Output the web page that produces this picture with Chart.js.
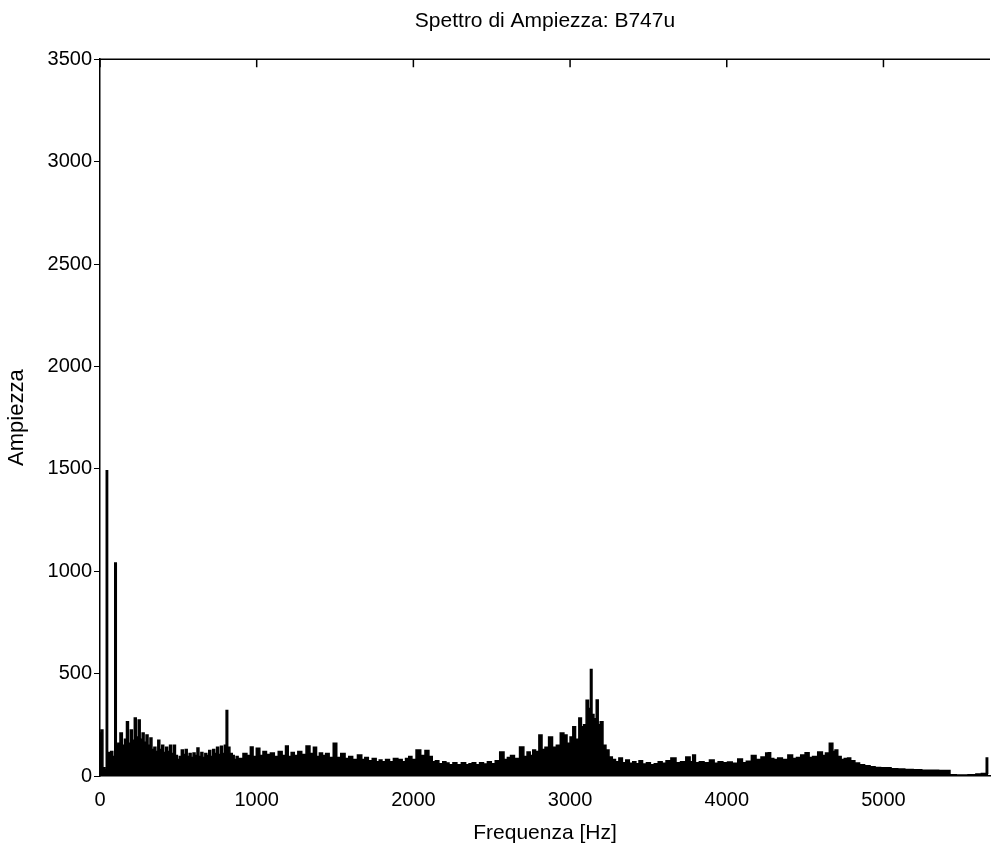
<!DOCTYPE html>
<html>
<head>
<meta charset="utf-8">
<script src="https://cdn.jsdelivr.net/npm/chart.js@4.4.1/dist/chart.umd.min.js"></script>
<style>
  html, body { margin: 0; padding: 0; background: #fff; }
  #wrap { position: relative; width: 992px; height: 850px; }
</style>
</head>
<body>
<div id="wrap"><canvas id="chart"></canvas></div>
<script>
// spectrum: frequency [Hz] and amplitude envelope
const freqHz = [
  0, 12, 25, 35, 45, 52, 62, 75, 88, 100, 108, 120, 135, 150, 163, 175, 188, 200, 213, 225,
  238, 250, 263, 275, 288, 300, 313, 325, 338, 350, 363, 375, 388, 400, 413, 425, 438, 450, 463, 475,
  488, 500, 513, 525, 538, 550, 563, 575, 588, 600, 613, 625, 638, 650, 663, 675, 688, 700, 713, 725,
  738, 750, 763, 775, 788, 800, 810, 820, 838, 850, 863, 875, 888, 900, 925, 950, 969, 985, 1010, 1030,
  1050, 1075, 1100, 1125, 1150, 1175, 1193, 1210, 1230, 1250, 1275, 1300, 1330, 1350, 1374, 1390, 1410, 1430, 1450, 1475,
  1502, 1520, 1553, 1575, 1600, 1625, 1661, 1680, 1700, 1725, 1750, 1775, 1789, 1810, 1835, 1860, 1885, 1917, 1940, 1960,
  1981, 2000, 2034, 2060, 2088, 2110, 2131, 2150, 2175, 2200, 2215, 2240, 2265, 2290, 2322, 2345, 2365, 2386, 2410, 2435,
  2460, 2485, 2510, 2535, 2567, 2590, 2610, 2630, 2660, 2695, 2715, 2736, 2755, 2769, 2790, 2812, 2830, 2850, 2876, 2900,
  2925, 2950, 2971, 2990, 3010, 3025, 3045, 3067, 3078, 3095, 3110, 3125, 3135, 3145, 3160, 3174, 3185, 3200, 3220, 3238,
  3259, 3280, 3300, 3323, 3345, 3366, 3390, 3410, 3430, 3450, 3475, 3500, 3525, 3550, 3575, 3600, 3625, 3662, 3690, 3720,
  3757, 3775, 3790, 3810, 3840, 3870, 3909, 3930, 3960, 3990, 4020, 4050, 4090, 4110, 4140, 4174, 4200, 4237, 4260, 4270,
  4290, 4310, 4340, 4370, 4410, 4430, 4460, 4484, 4516, 4535, 4560, 4601, 4620, 4640, 4669, 4685, 4697, 4720, 4740, 4760,
  4782, 4800, 4835, 4860, 4899, 4930, 4963, 5000, 5027, 5070, 5112, 5160, 5219, 5270, 5324, 5380, 5421, 5428, 5500, 5580,
  5600, 5650, 5662, 5668
]
const amplitude = [
  210, 225, 40, 30, 1490, 60, 115, 120, 95, 1040, 150, 160, 210, 150, 180, 265, 160, 225, 175, 283,
  190, 273, 180, 210, 165, 200, 150, 185, 130, 140, 120, 175, 130, 150, 115, 140, 120, 150, 110, 150,
  100, 80, 95, 127, 105, 130, 95, 110, 90, 112, 100, 137, 95, 115, 90, 110, 100, 125, 95, 130,
  110, 140, 105, 145, 110, 150, 320, 140, 110, 100, 80, 95, 85, 85, 110, 100, 142, 95, 135, 100,
  120, 105, 112, 95, 120, 100, 147, 95, 115, 100, 120, 105, 147, 110, 140, 95, 112, 100, 110, 90,
  160, 90, 110, 85, 95, 80, 102, 80, 90, 75, 85, 70, 78, 70, 80, 70, 85, 80, 70, 85,
  95, 80, 127, 100, 125, 95, 70, 75, 60, 70, 63, 55, 65, 55, 65, 55, 60, 65, 55, 65,
  58, 70, 60, 75, 117, 80, 90, 100, 85, 142, 95, 117, 100, 127, 120, 200, 130, 140, 190, 140,
  150, 210, 200, 160, 190, 240, 180, 283, 240, 250, 370, 330, 520, 300, 280, 371, 250, 265, 150, 127,
  93, 80, 70, 88, 65, 78, 62, 70, 60, 75, 58, 65, 55, 60, 70, 62, 75, 88, 65, 70,
  93, 70, 102, 65, 70, 65, 78, 62, 70, 65, 68, 62, 83, 65, 72, 100, 80, 93, 112, 114,
  85, 80, 88, 80, 103, 85, 90, 103, 114, 90, 95, 117, 100, 112, 160, 120, 127, 95, 80, 85,
  88, 75, 63, 55, 50, 45, 42, 40, 40, 36, 34, 32, 30, 28, 28, 27, 27, 6, 5, 6,
  10, 12, 88, 10
]
const xTicks = [0, 1000, 2000, 3000, 4000, 5000]
const yTicks = [0, 500, 1000, 1500, 2000, 2500, 3000, 3500]

const points = freqHz.map((f, i) => ({ x: f, y: amplitude[i] }))
const font = { family: "'Liberation Sans', Arial, sans-serif", size: 20 }

// MATLAB style box: top edge with inward tick marks
const boxPlugin = {
  id: 'box',
  afterDraw(chart) {
    const { ctx, chartArea, scales } = chart
    ctx.save()
    ctx.strokeStyle = '#000'
    ctx.lineWidth = 1.5
    ctx.beginPath()
    ctx.moveTo(chartArea.left, chartArea.top)
    ctx.lineTo(chartArea.right, chartArea.top)
    xTicks.forEach(v => {
      const px = scales.x.getPixelForValue(v)
      ctx.moveTo(px, chartArea.top)
      ctx.lineTo(px, chartArea.top + 8)
    })
    ctx.stroke()
    ctx.restore()
  }
}

new Chart(document.getElementById('chart'), {
  type: 'line',
  data: {
    datasets: [{
      data: points,
      borderColor: '#000',
      backgroundColor: '#000',
      borderWidth: 1.5,
      pointRadius: 0,
      fill: 'origin',
      stepped: 'middle'
    }]
  },
  options: {
    responsive: true,
    maintainAspectRatio: false,
    animation: false,
    layout: { padding: { left: 0, right: 2, top: 0, bottom: 0 } },
    plugins: {
      legend: { display: false },
      tooltip: { enabled: false },
      title: {
        display: true,
        fullSize: false,
        text: 'Spettro di Ampiezza: B747u',
        color: '#000',
        font: { ...font, size: 21, weight: 'normal' },
        padding: { top: 9, bottom: 25 }
      }
    },
    scales: {
      x: {
        type: 'linear',
        min: 0,
        max: 5680,
        afterBuildTicks: s => { s.ticks = xTicks.map(v => ({ value: v })) },
        afterFit: s => { s.height = 74 },
        border: { display: true, color: '#000', width: 1.5 },
        grid: { display: false },
        ticks: { color: '#000', font, padding: 4, maxRotation: 0, callback: v => String(v) },
        title: { display: true, text: 'Frequenza [Hz]', color: '#000', font: { ...font, size: 21 }, padding: { top: 0 } }
      },
      y: {
        min: 0,
        max: 3500,
        afterBuildTicks: s => { s.ticks = yTicks.map(v => ({ value: v })) },
        afterFit: s => { s.width = 100 },
        border: { display: true, color: '#000', width: 1.5 },
        grid: { drawOnChartArea: false, color: '#000', tickLength: 6 },
        ticks: { color: '#000', font, padding: 2, callback: v => String(v) },
        title: { display: true, text: 'Ampiezza', color: '#000', font: { ...font, size: 22 }, padding: { bottom: 2 } }
      }
    }
  },
  plugins: [boxPlugin]
})
</script>
</body>
</html>
